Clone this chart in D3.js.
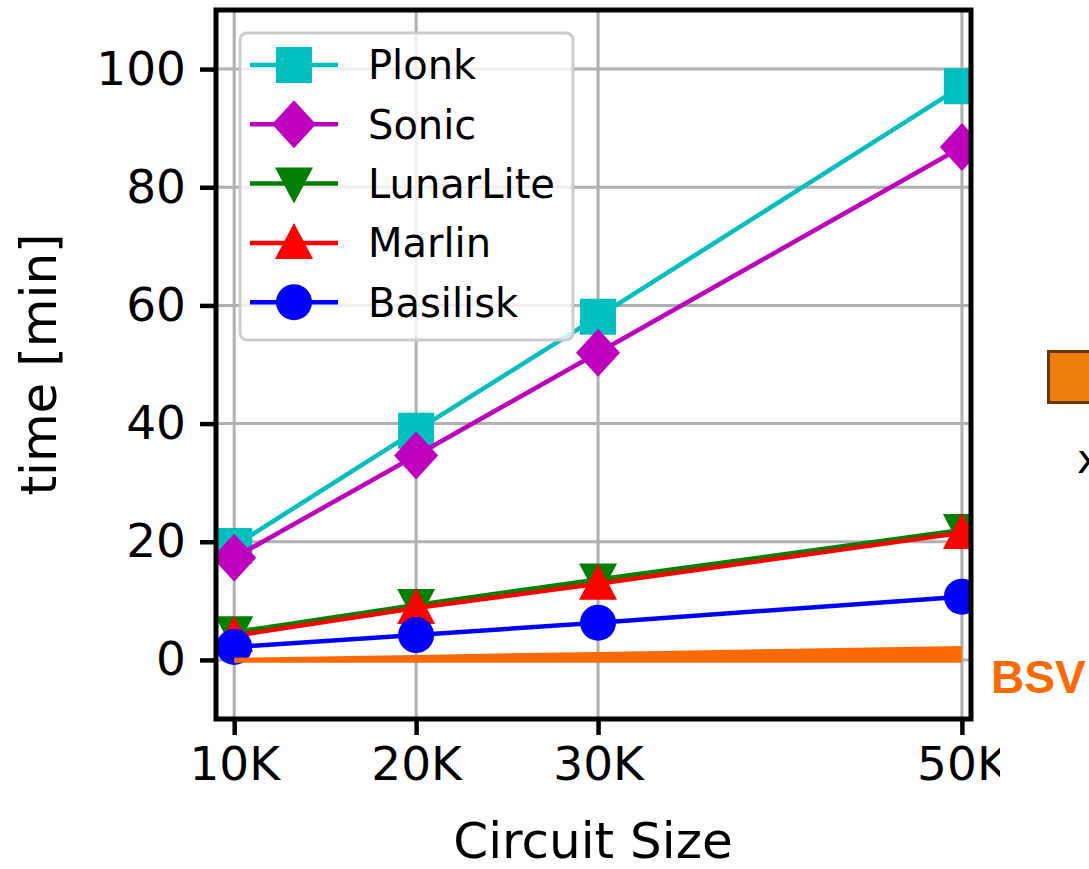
<!DOCTYPE html>
<html>
<head>
<meta charset="utf-8">
<script src="https://cdn.jsdelivr.net/npm/d3@7"></script>
<style>
  html, body { margin: 0; padding: 0; background: #fff; }
  svg { display: block; }
  text { font-family: "DejaVu Sans", sans-serif; fill: #000; }
  text.side-note { font-family: "Liberation Sans", Arial, sans-serif; font-weight: bold; fill: #ff6a00; }
</style>
</head>
<body>
<svg id="chart" width="1089" height="869"></svg>
<script>
// Circuit sizes (thousands of gates) and x tick labels
const circuitSizes = [10, 20, 30, 50];
const xTickLabels = ["10K", "20K", "30K", "50K"];
const yTickValues = [0, 20, 40, 60, 80, 100];

// Proving time in minutes for each scheme
const plonk     = [19.3, 38.8, 58.1, 97.1];
const sonic     = [17.3, 34.6, 52.0, 86.8];
const lunarLite = [4.7, 9.3, 13.6, 22.0];
const marlin    = [4.1, 8.8, 12.9, 21.5];
const basilisk  = [2.2, 4.2, 6.3, 10.7];

// BSV band (lower and upper edge, minutes)
const bsvLow  = [-0.5, -0.5, -0.5, -0.5];
const bsvHigh = [0.35, 0.85, 1.36, 2.37];

const seriesNames = ["Plonk", "Sonic", "LunarLite", "Marlin", "Basilisk"];
const seriesValues = [plonk, sonic, lunarLite, marlin, basilisk];
const seriesColors = ["#00bfbf", "#bf00bf", "#008000", "#ff0000", "#0000ff"];
const seriesMarkers = ["square", "diamond", "triDown", "triUp", "circle"];

const svg = d3.select("#chart");

const plot = { left: 216, right: 971, top: 10, bottom: 719 };
const x = d3.scaleLinear().domain([9, 50.5]).range([plot.left, plot.right]);
const y = d3.scaleLinear().domain([-10, 110]).range([plot.bottom, plot.top]);

const defs = svg.append("defs");
defs.append("clipPath").attr("id", "plotClip")
  .append("rect")
  .attr("x", plot.left).attr("y", plot.top)
  .attr("width", plot.right - plot.left).attr("height", plot.bottom - plot.top);
defs.append("clipPath").attr("id", "tickClip")
  .append("rect").attr("x", 0).attr("y", 0).attr("width", 1000).attr("height", 869);

// Grid
const grid = svg.append("g").attr("stroke", "#b0b0b0").attr("stroke-width", 3);
grid.selectAll("line.v").data(circuitSizes).join("line")
  .attr("class", "v")
  .attr("x1", d => x(d)).attr("x2", d => x(d))
  .attr("y1", plot.top).attr("y2", plot.bottom);
grid.selectAll("line.h").data(yTickValues).join("line")
  .attr("class", "h")
  .attr("x1", plot.left).attr("x2", plot.right)
  .attr("y1", d => y(d)).attr("y2", d => y(d));

// Marker shapes
function markerPath(kind) {
  switch (kind) {
    case "square":  return "M-18,-18H18V18H-18Z";
    case "diamond": return "M0,-24L22,0L0,24L-22,0Z";
    case "triDown": return "M-19,-16H19L0,20Z";
    case "triUp":   return "M0,-20L19,16H-19Z";
    case "circle":  return d3.arc()({innerRadius: 0, outerRadius: 18, startAngle: 0, endAngle: 2 * Math.PI});
  }
}

const data = svg.append("g").attr("clip-path", "url(#plotClip)");
const line = d3.line().x((d, i) => x(circuitSizes[i])).y(d => y(d));

seriesValues.forEach((vals, k) => {
  const g = data.append("g");
  g.append("path").datum(vals)
    .attr("d", line)
    .attr("fill", "none")
    .attr("stroke", seriesColors[k])
    .attr("stroke-width", 4.5);
  g.selectAll("path.mk").data(vals).join("path")
    .attr("class", "mk")
    .attr("transform", (d, i) => `translate(${x(circuitSizes[i])},${y(d)})`)
    .attr("d", markerPath(seriesMarkers[k]))
    .attr("fill", seriesColors[k]);
});

// BSV band
const bsvArea = d3.area()
  .x((d, i) => x(circuitSizes[i]))
  .y0((d, i) => y(bsvLow[i]))
  .y1(d => y(d));
data.append("path").datum(bsvHigh)
  .attr("d", bsvArea)
  .attr("fill", "#ff6a00");

// Frame
svg.append("rect")
  .attr("x", plot.left).attr("y", plot.top)
  .attr("width", plot.right - plot.left).attr("height", plot.bottom - plot.top)
  .attr("fill", "none").attr("stroke", "#000").attr("stroke-width", 5);

// Axes
const yAxis = svg.append("g")
  .attr("transform", `translate(${plot.left},0)`)
  .call(d3.axisLeft(y).tickValues(yTickValues).tickSize(16).tickPadding(14).tickFormat(d3.format("d")));
const xAxis = svg.append("g")
  .attr("transform", `translate(0,${plot.bottom})`)
  .attr("clip-path", "url(#tickClip)")
  .call(d3.axisBottom(x).tickValues(circuitSizes).tickSize(16).tickPadding(12)
    .tickFormat((d, i) => xTickLabels[i]));
[yAxis, xAxis].forEach(ax => {
  ax.select(".domain").remove();
  ax.selectAll(".tick line").attr("stroke", "#000").attr("stroke-width", 4.5);
  ax.selectAll(".tick text").attr("font-size", 47).attr("font-family", "DejaVu Sans").attr("fill", "#000");
});

svg.append("text")
  .attr("transform", `translate(56,${(plot.top + plot.bottom) / 2}) rotate(-90)`)
  .attr("text-anchor", "middle")
  .attr("font-size", 50)
  .text("time [min]");
svg.append("text")
  .attr("x", 593).attr("y", 858)
  .attr("text-anchor", "middle")
  .attr("font-size", 50)
  .text("Circuit Size");

// Legend
const legend = svg.append("g");
legend.append("rect")
  .attr("x", 240).attr("y", 33).attr("width", 333).attr("height", 307)
  .attr("rx", 7)
  .attr("fill", "rgba(255,255,255,0.8)")
  .attr("stroke", "#cccccc").attr("stroke-width", 3);
seriesNames.forEach((name, k) => {
  const cy = 65 + k * 59.3;
  const row = legend.append("g");
  row.append("line").attr("x1", 250).attr("x2", 338).attr("y1", cy).attr("y2", cy)
    .attr("stroke", seriesColors[k]).attr("stroke-width", 4.5);
  row.append("path").attr("transform", `translate(294,${cy})`)
    .attr("d", markerPath(seriesMarkers[k])).attr("fill", seriesColors[k]);
  row.append("text").attr("x", 368).attr("y", cy).attr("dy", "0.36em")
    .attr("font-size", 40).text(name);
});

// Side annotations
svg.append("text")
  .attr("class", "side-note")
  .attr("x", 991).attr("y", 693)
  .attr("font-size", 46)
  .text("BSV");
svg.append("rect")
  .attr("x", 1048.5).attr("y", 351.5).attr("width", 60).attr("height", 51)
  .attr("fill", "#f0800c").attr("stroke", "#6b3500").attr("stroke-width", 3);
svg.append("text")
  .attr("x", 1077).attr("y", 473)
  .attr("font-size", 40)
  .text("x");
</script>
</body>
</html>
